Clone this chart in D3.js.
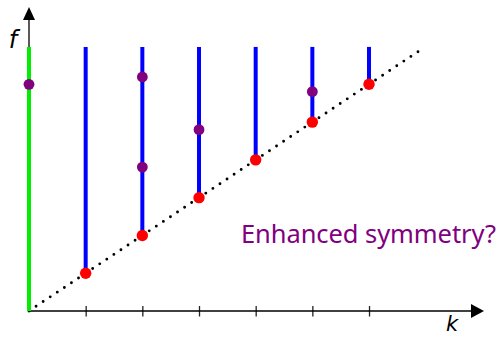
<!DOCTYPE html>
<html>
<head>
<meta charset="utf-8">
<script src="https://cdn.jsdelivr.net/npm/d3@7"></script>
<style>
  body { margin: 0; background: #fff; }
  svg { display: block; }
</style>
</head>
<body>
<div id="chart"></div>
<script>
// k positions of the ticks / columns
const kTicks = [1, 2, 3, 4, 5, 6];
const columnK = [0, 1, 2, 3, 4, 5, 6];
// lower end of each column (red dots lie on f = 2k/3)
const columnBottom = [0, 0.667, 1.333, 2, 2.667, 3.333, 4];
const columnTop = 4.66;
const redK = [1, 2, 3, 4, 5, 6];
const redF = [0.667, 1.333, 2, 2.667, 3.333, 4];
const purpleK = [0, 2, 2, 3, 5];
const purpleF = [4.0, 4.13, 2.54, 3.2, 3.87];
const diagonalEnd = 6.92;

const W = 499, H = 337;

const svg = d3.select('#chart').append('svg')
  .attr('width', W)
  .attr('height', H);

const x = d3.scaleLinear().domain([0, 8]).range([29, 29 + 8 * 56.67]);
const y = d3.scaleLinear().domain([0, 5]).range([311, 311 - 5 * 56.67]);

//x axis with ticks crossing the line
const xAxis = svg.append('g')
  .attr('transform', 'translate(0,' + y(0) + ')')
  .call(d3.axisBottom(x).tickValues(kTicks).tickSize(5.5).tickFormat(''));
xAxis.select('.domain').remove();
xAxis.selectAll('.tick line')
  .attr('y1', -5)
  .attr('stroke', '#222')
  .attr('stroke-width', 1.3);

svg.append('line')
  .attr('x1', x(0)).attr('y1', y(0))
  .attr('x2', 472).attr('y2', y(0))
  .attr('stroke', '#000').attr('stroke-width', 1.3);
svg.append('polygon')
  .attr('points', [[484, y(0)], [471, y(0) - 7], [471, y(0) + 7]].join(' '))
  .attr('fill', '#000');

//y axis
svg.append('line')
  .attr('x1', x(0)).attr('y1', y(0))
  .attr('x2', x(0)).attr('y2', 19)
  .attr('stroke', '#000').attr('stroke-width', 1.3);
svg.append('polygon')
  .attr('points', [[x(0), 7], [x(0) - 6, 20], [x(0) + 6, 20]].join(' '))
  .attr('fill', '#000');

// dotted diagonal
svg.append('line')
  .attr('x1', x(0)).attr('y1', y(0))
  .attr('x2', x(diagonalEnd)).attr('y2', y(diagonalEnd * 2 / 3))
  .attr('stroke', '#000')
  .attr('stroke-width', 2.9)
  .attr('stroke-linecap', 'round')
  .attr('stroke-dasharray', '0 8.5');

// columns
svg.append('g').selectAll('line')
  .data(columnK)
  .enter().append('line')
  .attr('x1', d => x(d)).attr('x2', d => x(d))
  .attr('y1', (d, i) => y(columnBottom[i]))
  .attr('y2', y(columnTop))
  .attr('stroke', d => d === 0 ? '#00ee00' : '#0000ff')
  .attr('stroke-width', 4);

// red dots
svg.append('g').selectAll('circle')
  .data(redK)
  .enter().append('circle')
  .attr('cx', d => x(d))
  .attr('cy', (d, i) => y(redF[i]))
  .attr('r', 5.7)
  .attr('fill', '#ff0000');

// purple dots
svg.append('g').selectAll('circle')
  .data(purpleK)
  .enter().append('circle')
  .attr('cx', d => x(d))
  .attr('cy', (d, i) => y(purpleF[i]))
  .attr('r', 5.4)
  .attr('fill', '#800080');

// labels
svg.append('text')
  .attr('x', 13).attr('y', 48)
  .attr('text-anchor', 'middle')
  .attr('font-family', 'DejaVu Sans')
  .attr('font-style', 'italic')
  .attr('font-size', 24)
  .text('f');

svg.append('text')
  .attr('x', 452).attr('y', 331)
  .attr('text-anchor', 'middle')
  .attr('font-family', 'DejaVu Sans')
  .attr('font-style', 'italic')
  .attr('font-size', 21)
  .text('k');

svg.append('text')
  .attr('x', 241).attr('y', 243)
  .attr('font-family', 'Noto Sans')
  .attr('font-size', 25.5)
  .attr('textLength', 255)
  .attr('fill', '#800080')
  .text('Enhanced symmetry?');
</script>
</body>
</html>
